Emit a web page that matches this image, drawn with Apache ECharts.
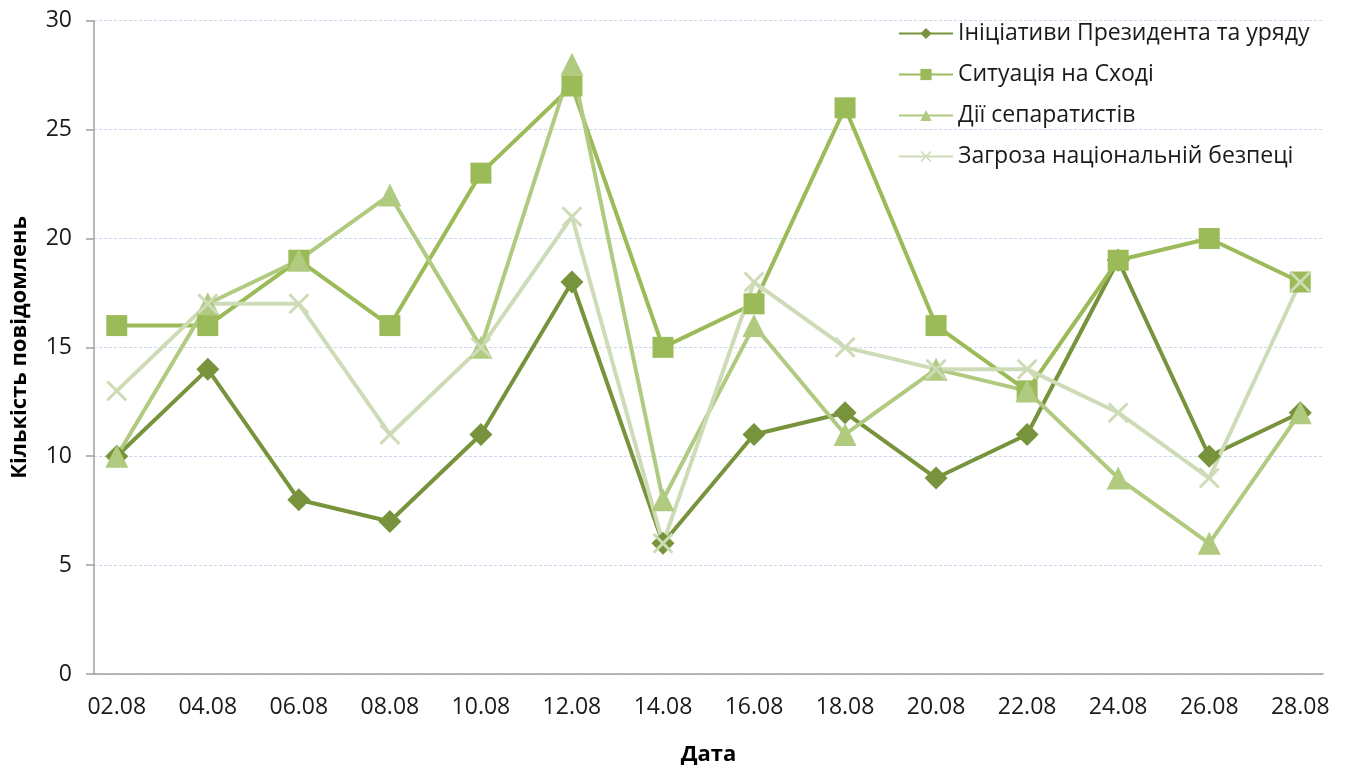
<!DOCTYPE html>
<html>
<head>
<meta charset="utf-8">
<script src="https://cdn.jsdelivr.net/npm/echarts@6/dist/echarts.min.js"></script>
<style>
  html, body { margin: 0; padding: 0; background: #fff; }
  #chart { width: 1349px; height: 765px; }
</style>
</head>
<body>
<div id="chart"></div>
<script>
// Dates of the reporting days (day.month)
const dates = ['02.08', '04.08', '06.08', '08.08', '10.08', '12.08', '14.08',
               '16.08', '18.08', '20.08', '22.08', '24.08', '26.08', '28.08'];

// Number of messages per topic
const initiatives = [10, 14, 8, 7, 11, 18, 6, 11, 12, 9, 11, 19, 10, 12];
const eastSituation = [16, 16, 19, 16, 23, 27, 15, 17, 26, 16, 13, 19, 20, 18];
const separatists = [10, 17, 19, 22, 15, 28, 8, 16, 11, 14, 13, 9, 6, 12];
const securityThreat = [13, 17, 17, 11, 15, 21, 6, 18, 15, 14, 14, 12, 9, 18];

const seriesNames = ['Ініціативи Президента та уряду', 'Ситуація на Сході',
                     'Дії сепаратистів', 'Загроза національній безпеці'];
const yTicks = [0, 5, 10, 15, 20, 25, 30];

// Day number of each date, used as x position on a daily time scale
const days = dates.map(d => parseInt(d.slice(0, 2), 10));
const pairs = vals => vals.map((v, i) => [days[i], v]);

const FONT = '"Open Sans", "Noto Sans", sans-serif';
const crossPath = 'path://M0,1L1,0L5,4L9,0L10,1L6,5L10,9L9,10L5,6L1,10L0,9L4,5Z';

function lineSeries(name, values, color, symbol, size) {
  return {
    name: name,
    type: 'line',
    data: pairs(values),
    symbol: symbol,
    symbolSize: size,
    lineStyle: { color: color, width: 4 },
    itemStyle: { color: color },
    emphasis: { disabled: true },
    animation: false
  };
}

const chart = echarts.init(document.getElementById('chart'));
chart.setOption({
  backgroundColor: '#ffffff',
  textStyle: { fontFamily: FONT },
  grid: { left: 94, right: 26, top: 20.7, bottom: 91, containLabel: false, outerBoundsMode: 'none' },
  legend: {
    orient: 'vertical',
    left: 898,
    top: 22,
    padding: 0,
    itemWidth: 54,
    itemHeight: 14,
    itemGap: 18,
    textStyle: { fontFamily: FONT, fontSize: 23, color: '#1a1a1a', lineHeight: 23 },
    data: seriesNames
  },
  xAxis: {
    type: 'value',
    min: 1.5,
    max: 28.5,
    name: 'Дата',
    nameLocation: 'middle',
    nameGap: 70,
    nameTextStyle: { fontFamily: FONT, fontSize: 22, fontWeight: 'bold', color: '#000' },
    axisLine: { show: true, lineStyle: { color: '#a0a0a0', width: 1.5 } },
    axisTick: { show: false },
    splitLine: { show: false },
    axisLabel: {
      customValues: days,
      margin: 22,
      fontFamily: FONT,
      fontSize: 23,
      color: '#1a1a1a',
      formatter: v => dates[days.indexOf(Math.round(v))] || ''
    }
  },
  yAxis: {
    type: 'value',
    min: 0,
    max: 30,
    interval: 5,
    name: 'Кількість повідомлень',
    nameLocation: 'middle',
    nameGap: 63,
    nameRotate: 90,
    nameTextStyle: { fontFamily: FONT, fontSize: 22, fontWeight: 'bold', color: '#000' },
    axisLine: { show: true, lineStyle: { color: '#a0a0a0', width: 1.5 } },
    axisTick: { show: true, inside: false, length: 8, lineStyle: { color: '#a0a0a0', width: 1.5 } },
    splitLine: { show: true, lineStyle: { color: '#c9d8ee', type: [3, 2], width: 1 } },
    axisLabel: {
      customValues: yTicks,
      margin: 22,
      fontFamily: FONT,
      fontSize: 23,
      color: '#1a1a1a'
    }
  },
  series: [
    lineSeries(seriesNames[0], initiatives, '#77933c', 'diamond', 23),
    lineSeries(seriesNames[1], eastSituation, '#9bbb59', 'rect', 21),
    lineSeries(seriesNames[2], separatists, '#b0ca7f', 'triangle', 23),
    lineSeries(seriesNames[3], securityThreat, '#cddcb6', crossPath, 21)
  ]
});
</script>
</body>
</html>
